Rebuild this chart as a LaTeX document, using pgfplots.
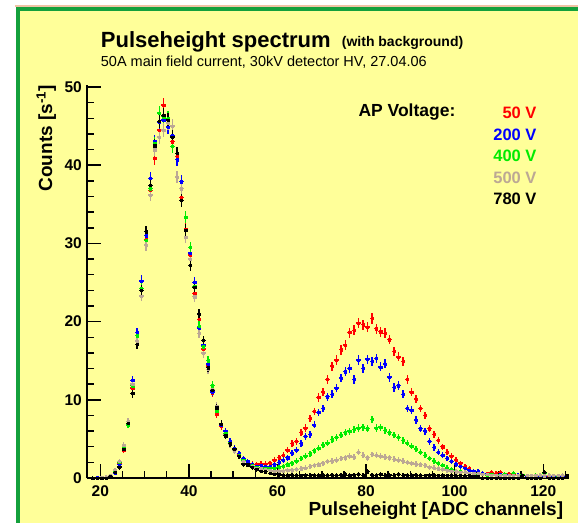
\documentclass[border=0pt]{standalone}
\usepackage{fontspec}
\setmainfont{Liberation Sans}
\usepackage{pgfplots}
\usepackage{pgfplotstable}
\pgfplotsset{compat=1.18}
\definecolor{bgyellow}{RGB}{255,255,153}
\definecolor{framegreen}{RGB}{20,160,60}
\definecolor{peach}{RGB}{240,195,165}
\definecolor{cred}{RGB}{255,0,0}
\definecolor{cblue}{RGB}{0,0,255}
\definecolor{cgreen}{RGB}{0,235,0}
\definecolor{ctan}{RGB}{188,168,148}
\definecolor{cblack}{RGB}{0,0,0}

% n = ADC channel bin; r=50V b=200V g=400V t=500V k=780V  (counts per s)
\pgfplotstableread{
n r b g t k
18 0 0 0 0 0
19 0 0.05 0 0 0
20 0 0 0 0.05 0
21 0.05 0 0.05 0.1 0
22 0.3 0.2 0.3 0.3 0.2
23 0.9 0.6 0.8 1.0 0.7
24 1.8 1.7 2.0 2.1 1.4
25 3.6 3.8 3.9 4.2 3.7
26 6.9 7.0 6.8 7.2 7.0
27 11.5 12.5 11.8 12.0 10.8
28 17.1 18.6 18.2 17.5 17.1
29 24.2 25.2 24.2 23.3 24.0
30 30.5 31.0 30.4 29.8 31.5
31 36.8 38.3 37.0 36.2 37.4
32 40.9 43.0 42.8 42.0 42.5
33 44.5 45.5 46.7 43.6 45.6
34 47.7 45.8 46.2 44.5 46.4
35 45.5 44.9 46.0 45.4 45.8
36 43.0 43.8 42.4 45.0 43.6
37 41.1 40.7 41.5 38.5 41.5
38 35.9 37.9 37.0 37.0 35.5
39 31.8 31.7 33.4 30.8 31.7
40 28.5 28.8 29.5 28.0 27.2
41 23.6 25.0 24.5 23.2 24.4
42 20.3 19.2 19.4 18.5 21.0
43 16.5 17.0 16.8 16.0 17.6
44 14.3 14.6 15.0 13.9 14.1
45 10.9 11.0 11.8 11.3 11.2
46 8.2 8.8 8.6 9.2 9.0
47 6.6 6.8 6.9 6.9 6.9
48 5.6 6.0 5.7 5.5 5.4
49 4.5 4.7 4.5 4.3 4.4
50 3.5 3.8 3.7 3.5 3.7
51 3.0 3.1 2.9 2.8 2.8
52 2.2 2.5 2.3 2.1 1.8
53 2.0 2.1 1.8 1.8 1.7
54 1.8 1.7 1.6 1.5 1.4
55 1.7 1.5 1.4 1.3 1.1
56 1.8 1.6 1.3 1.2 0.9
57 1.8 1.5 1.3 1.1 0.8
58 1.9 1.5 1.3 1.0 0.6
59 2.3 1.7 1.3 0.9 0.5
60 2.6 2.0 1.4 0.9 0.45
61 2.9 2.3 1.5 0.9 0.4
62 3.6 2.6 1.7 1.0 0.35
63 4.4 3.2 1.9 1.0 0.4
64 4.7 3.6 2.2 1.1 0.35
65 5.8 4.4 2.5 1.2 0.3
66 6.4 5.3 2.8 1.3 0.4
67 7.6 5.6 3.1 1.5 0.35
68 8.5 6.8 3.5 1.6 0.4
69 10.3 8.4 3.8 1.7 0.35
70 11.0 8.9 4.2 1.9 0.4
71 12.6 10.4 4.5 2.1 0.35
72 14.3 10.7 4.9 2.2 0.4
73 15.1 11.5 5.2 2.3 0.35
74 16.4 12.8 5.5 2.5 0.4
75 17.0 13.6 5.8 2.6 0.45
76 18.6 14.0 6.0 2.8 0.35
77 18.9 12.6 6.2 2.7 0.4
78 19.8 15.1 6.4 3.3 0.45
79 19.6 14.0 6.5 2.9 0.35
80 19.3 15.2 6.3 2.6 0.8
81 20.4 14.9 7.5 3.0 0.4
82 19.1 15.3 6.4 2.9 0.35
83 18.7 14.2 6.5 2.8 0.45
84 18.5 14.6 6.1 2.7 0.35
85 17.7 12.9 5.8 2.6 0.4
86 16.2 11.6 5.5 2.4 0.35
87 15.5 11.8 5.2 2.3 0.45
88 14.9 10.7 4.8 2.2 0.35
89 12.6 8.9 4.5 2.0 0.4
90 11.0 8.7 4.1 1.9 0.35
91 10.1 7.4 3.7 1.8 0.4
92 8.9 6.3 3.3 1.7 0.35
93 8.0 6.0 2.9 1.6 0.3
94 6.3 4.7 2.5 1.4 0.4
95 5.6 3.9 2.2 1.3 0.35
96 4.8 3.3 1.9 1.2 0.3
97 4.0 2.9 1.6 1.1 0.35
98 3.3 2.5 1.3 1.0 0.3
99 2.8 2.1 1.1 0.9 0.35
100 2.3 1.8 0.9 0.8 0.25
101 1.9 1.5 0.8 0.75 0.3
102 1.5 1.3 0.7 0.7 0.25
103 1.2 1.0 0.6 0.65 0.3
104 0.9 0.9 0.55 0.6 0.25
105 0.8 0.8 0.5 0.6 0.2
106 0.6 0.6 0.45 0.5 0
107 0.55 0.5 0.4 0.45 0
108 0.7 0.45 0.5 0.4 0
109 0.6 0.4 0.35 0.4 0
110 0.7 0.45 0.4 0.35 0
111 0.4 0.3 0.5 0.35 0
112 0.5 0.4 0.3 0.3 0
113 0.45 0.3 0.6 0.35 0
114 0.3 0.35 0.3 0.3 0
115 0.35 0.3 0.4 0.35 0.3
116 0.3 0.25 0.3 0.3 0
117 0.3 0.3 0.3 0.3 0
118 0.25 0.3 0.35 0.3 0
119 0.3 0.2 0.3 0.35 0
120 0.3 0.25 0.6 0.3 0.7
121 0.25 0.3 0.3 0.35 0
122 0.3 0.2 0.3 0.3 0
123 0.2 0.25 0.25 0.3 0
124 0.25 0.2 0.3 0.35 0
125 0.2 0.2 0.25 0.3 0.3
}\spectrum

\pgfplotsset{
  histpts/.style={only marks, mark=square*, mark size=1.1pt, color=#1,
    error bars/.cd, x dir=both, x fixed=0.5, y dir=both, y explicit,
    error mark=none, error bar style={line width=1.4pt, color=#1}},
}

\begin{document}
\begin{tikzpicture}
\useasboundingbox (0pt,0pt) rectangle (578pt,-523pt);
\fill[white] (0pt,0pt) rectangle (578pt,-523pt);
\fill[bgyellow] (17pt,-7pt) rectangle (578pt,-523pt);
\fill[peach] (15pt,-4.5pt) rectangle (578pt,-7pt);
\fill[framegreen] (16pt,-7pt) rectangle (578pt,-11pt);
\fill[framegreen] (16pt,-7pt) rectangle (20pt,-523pt);

\begin{axis}[
  at={(87pt,-478pt)}, anchor=south west,
  scale only axis, width=481.5pt, height=393.3pt,
  xmin=17, xmax=125.7, ymin=0, ymax=50.3,
  axis lines=left, axis line style={-, line width=1.8pt, black},
  tick align=inside, major tick length=14pt, minor tick length=7pt,
  every tick/.style={line width=1.5pt, black},
  xtick={20,40,...,120}, minor xtick={25,30,...,125},
  ytick={0,10,...,50}, minor ytick={2,4,...,48},
  /pgf/number format/assume math mode=true,
  ticklabel style={font=\bfseries\fontsize{15.5}{15.5}\selectfont},
  xticklabel style={anchor=north, inner sep=0pt, yshift=-7pt},
  yticklabel style={anchor=east, inner sep=0pt, xshift=-5pt},
]
\addplot[histpts=cred] table[x expr=\thisrow{n}+0.3, y=r, y error expr=0.1*sqrt(\thisrow{r})+0.2] {\spectrum};
\addplot[histpts=cblue] table[x expr=\thisrow{n}+0.3, y=b, y error expr=0.1*sqrt(\thisrow{b})+0.2] {\spectrum};
\addplot[histpts=cgreen] table[x expr=\thisrow{n}+0.3, y=g, y error expr=0.1*sqrt(\thisrow{g})+0.2] {\spectrum};
\addplot[histpts=ctan] table[x expr=\thisrow{n}+0.3, y=t, y error expr=0.1*sqrt(\thisrow{t})+0.2] {\spectrum};
\addplot[histpts=cblack] table[x expr=\thisrow{n}+0.3, y=k, y error expr=0.1*sqrt(\thisrow{k})+0.2] {\spectrum};
\end{axis}

% titles
\node[anchor=base west, inner sep=0pt] at (100.7pt,-47.3pt) {\fontsize{22}{24}\selectfont\bfseries Pulseheight spectrum};
\node[anchor=base west, inner sep=0pt] at (341.7pt,-46.7pt) {\fontsize{14}{16}\selectfont\bfseries (with background)};
\node[anchor=base west, inner sep=0pt] at (100.7pt,-66.7pt) {\fontsize{14.5}{16}\selectfont 50A main field current, 30kV detector HV, 27.04.06};
% axis titles
\node[anchor=base east, inner sep=0pt] at (563.3pt,-515pt) {\fontsize{19}{19}\selectfont\bfseries Pulseheight [ADC channels]};
\node[rotate=90, anchor=base east, inner sep=0pt] at (52pt,-85pt) {\fontsize{19}{19}\selectfont\bfseries Counts [s\textsuperscript{-1}]};
% legend
\node[anchor=base west, inner sep=0pt] at (358.3pt,-116.7pt) {\fontsize{17.5}{18}\selectfont\bfseries AP Voltage:};
\node[anchor=base east, inner sep=0pt, text=cred] at (536.7pt,-118.5pt) {\fontsize{16.5}{17}\selectfont\bfseries 50 V};
\node[anchor=base east, inner sep=0pt, text=cblue] at (536.7pt,-140pt) {\fontsize{16.5}{17}\selectfont\bfseries 200 V};
\node[anchor=base east, inner sep=0pt, text=cgreen] at (536.7pt,-161.5pt) {\fontsize{16.5}{17}\selectfont\bfseries 400 V};
\node[anchor=base east, inner sep=0pt, text=ctan] at (536.7pt,-183pt) {\fontsize{16.5}{17}\selectfont\bfseries 500 V};
\node[anchor=base east, inner sep=0pt, text=cblack] at (536.7pt,-204pt) {\fontsize{16.5}{17}\selectfont\bfseries 780 V};
\end{tikzpicture}
\end{document}
